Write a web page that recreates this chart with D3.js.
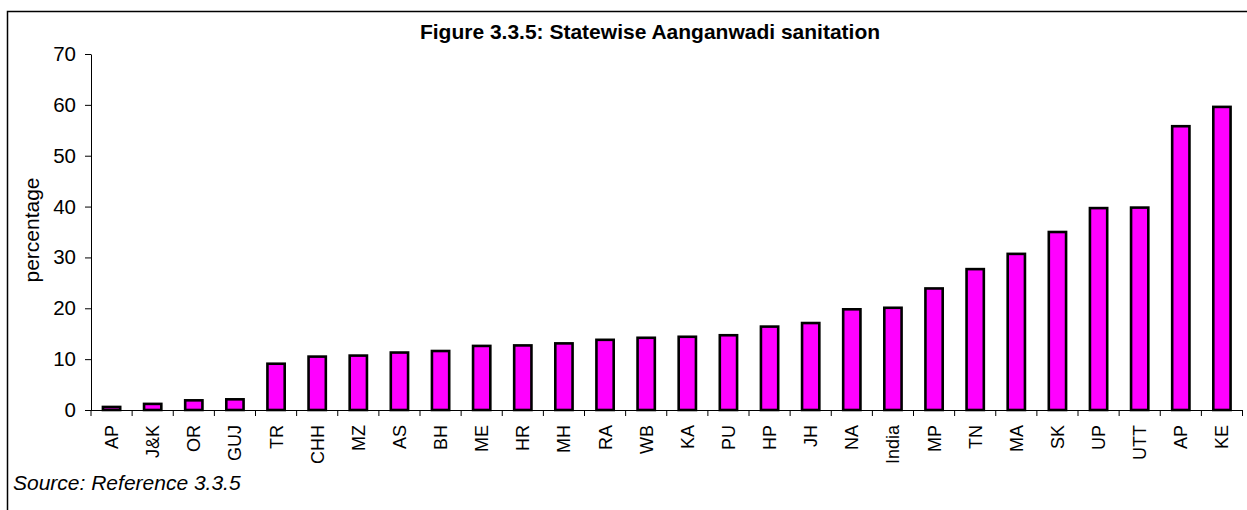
<!DOCTYPE html>
<html>
<head>
<meta charset="utf-8">
<script src="https://cdn.jsdelivr.net/npm/d3@7"></script>
<style>
  html, body { margin: 0; padding: 0; background: #fff; }
  svg { display: block; font-family: "Liberation Sans", Arial, sans-serif; }
</style>
</head>
<body>
<svg id="chart" width="1247" height="510"></svg>
<script>
const categories = ["AP","J&K","OR","GUJ","TR","CHH","MZ","AS","BH","ME","HR","MH","RA","WB","KA","PU","HP","JH","NA","India","MP","TN","MA","SK","UP","UTT","AP","KE"];
const values = [0.6,1.2,1.9,2.1,9.1,10.5,10.7,11.3,11.6,12.6,12.7,13.1,13.8,14.2,14.4,14.7,16.4,17.1,19.8,20.1,23.9,27.7,30.7,35.0,39.7,39.8,55.8,59.6];
const yTicks = [0,10,20,30,40,50,60,70];
const title = "Figure 3.3.5: Statewise Aanganwadi sanitation";
const yLabel = "percentage";
const source = "Source: Reference 3.3.5";

const svg = d3.select("#chart");
const W = 1247, H = 510;
const m = {left: 91, right: 5, top: 54, bottom: 100};
const plotR = 1242.5, plotB = 410;

// frame
svg.append("path")
  .attr("d", `M7.5,${H} L7.5,11.5 L${W},11.5`)
  .attr("fill", "none").attr("stroke", "#000").attr("stroke-width", 1.5);

const keys = categories.map((c, i) => i);
const x = d3.scaleBand().domain(keys).range([m.left, plotR]).paddingInner(0).paddingOuter(0);
const y = d3.scaleLinear().domain([0, 70]).range([plotB, m.top]);

// bars
const bw = x.bandwidth() * 0.42;
svg.append("g").selectAll("rect").data(values).join("rect")
  .attr("x", (d, i) => x(i) + x.bandwidth() / 2 - bw / 2)
  .attr("y", d => y(d))
  .attr("width", bw)
  .attr("height", d => y(0) - y(d))
  .attr("fill", "#FF00FF")
  .attr("stroke", "#000")
  .attr("stroke-width", 2.6);

// y axis
const yAxis = svg.append("g").attr("transform", `translate(${m.left},0)`)
  .call(d3.axisLeft(y).tickValues(yTicks).tickSize(6).tickPadding(9).tickSizeOuter(0));
yAxis.select(".domain").attr("stroke", "#000");
yAxis.selectAll(".tick line").attr("stroke", "#000");
yAxis.selectAll("text").attr("font-size", 20.5).attr("fill", "#000")
  .attr("font-family", "'Liberation Sans', Arial, sans-serif");

// x axis: line + boundary ticks
const xg = svg.append("g");
xg.append("line").attr("x1", m.left).attr("x2", plotR).attr("y1", plotB + 0.5).attr("y2", plotB + 0.5)
  .attr("stroke", "#000").attr("stroke-width", 1);
const bounds = keys.concat([categories.length]);
xg.selectAll("line.tk").data(bounds).join("line").attr("class", "tk")
  .attr("x1", d => (d < categories.length ? x(d) : plotR) )
  .attr("x2", d => (d < categories.length ? x(d) : plotR) )
  .attr("y1", plotB).attr("y2", plotB + 6)
  .attr("stroke", "#000").attr("stroke-width", 1);
xg.selectAll("text").data(categories).join("text")
  .attr("transform", (d, i) => `translate(${x(i) + x.bandwidth() / 2 + 6.5},${plotB + 15}) rotate(-90)`)
  .attr("text-anchor", "end")
  .attr("font-size", 18)
  .attr("fill", "#000")
  .text(d => d);

// title
svg.append("text").attr("x", 650).attr("y", 39).attr("text-anchor", "middle")
  .attr("font-size", 21).attr("font-weight", "bold").attr("fill", "#000").text(title);

// y label
svg.append("text").attr("transform", `translate(39,230) rotate(-90)`)
  .attr("text-anchor", "middle").attr("font-size", 21).attr("fill", "#000").text(yLabel);

// source
svg.append("text").attr("x", 13).attr("y", 490).attr("font-size", 21)
  .attr("font-style", "italic").attr("fill", "#000").text(source);
</script>
</body>
</html>
